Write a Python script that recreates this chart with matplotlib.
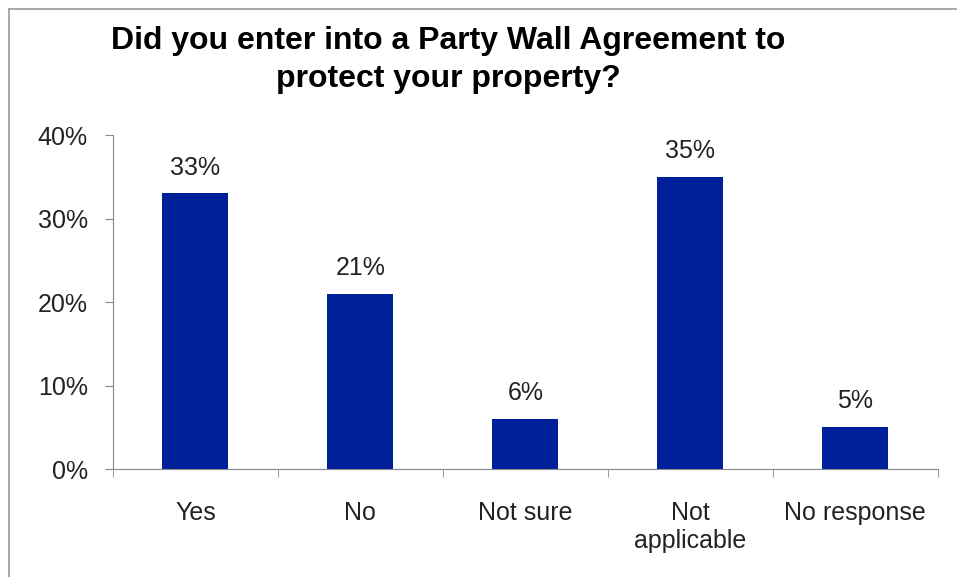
import matplotlib.pyplot as plt
import numpy as np
from matplotlib.lines import Line2D

categories = ['Yes', 'No', 'Not sure', 'Not\napplicable', 'No response']
values = [33, 21, 6, 35, 5]
y_ticks = [0, 10, 20, 30, 40]

plt.rcParams['font.family'] = ['Liberation Sans', 'DejaVu Sans']

fig = plt.figure(figsize=(9.57, 5.77), dpi=100)
ax = fig.add_axes([0.118, 0.187, 0.862, 0.579])

x = np.arange(len(categories))
ax.bar(x, values, width=0.4, color='#00209A', zorder=2)

for xi, v in zip(x, values):
    ax.annotate(f'{v}%', (xi, v), xytext=(0, 10), textcoords='offset points',
                ha='center', va='bottom', fontsize=18, color='#222222')

ax.set_xlim(-0.5, len(categories) - 0.5)
ax.set_ylim(0, 40)
ax.set_yticks(y_ticks)
ax.set_yticklabels([f'{t}%' for t in y_ticks], fontsize=18, color='#222222')
ax.set_xticks(x)
ax.set_xticklabels(categories, fontsize=18, color='#222222', linespacing=1.2)
ax.set_xticks(np.arange(len(categories) + 1) - 0.5, minor=True)
ax.tick_params(axis='x', which='major', length=0, pad=23)
ax.tick_params(axis='x', which='minor', length=6, color='#888888', direction='out')
ax.tick_params(axis='y', length=6, color='#888888', pad=12)

for s in ['top', 'right']:
    ax.spines[s].set_visible(False)
for s in ['left', 'bottom']:
    ax.spines[s].set_color('#888888')

fig.text(448 / 957, 1 - 60 / 577,
         'Did you enter into a Party Wall Agreement to\nprotect your property?',
         ha='center', va='center', fontsize=23, fontweight='bold', linespacing=1.38)

# outer frame (left and top edges visible)
fig.add_artist(Line2D([8.5 / 957, 8.5 / 957], [0, 1 - 9 / 577], color='#999999', lw=1.2))
fig.add_artist(Line2D([8.5 / 957, 1], [1 - 9 / 577, 1 - 9 / 577], color='#999999', lw=1.2))

fig.savefig('out.png', dpi=100)
